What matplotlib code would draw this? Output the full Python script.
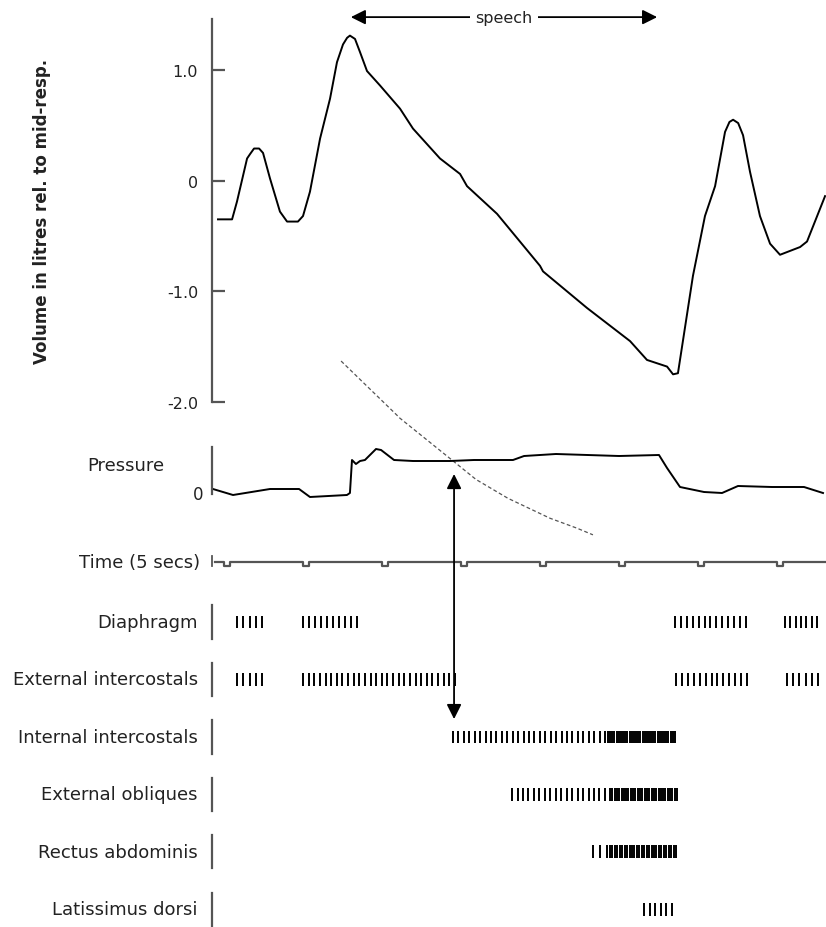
import matplotlib
matplotlib.use('Agg')
import matplotlib.pyplot as plt
from matplotlib.patches import ConnectionPatch
from matplotlib.transforms import blended_transform_factory
import numpy as np

plt.rcParams['font.family'] = ['DejaVu Sans']

# ── data (time in seconds) ───────────────────────────────────
vol_t = [-0.57, 0.32, 0.63, 1.27, 1.46, 1.71, 2.03, 2.28, 2.72, 3.35, 3.80, 4.49, 4.81,
         5.25, 5.89, 6.52, 6.96, 7.34, 7.60, 7.78, 8.10, 8.42, 8.86, 9.68, 10.95, 11.77,
         13.48, 14.75, 15.19, 17.09, 19.81, 20.00, 22.78, 25.51, 26.58, 27.85,
         28.23, 28.54, 29.49, 30.25, 30.89, 31.52, 31.80, 32.03, 32.35, 32.66, 33.10,
         33.73, 34.37, 35.00, 36.27, 36.71, 37.85]
vol_l = [-0.35, -0.35, -0.19, 0.20, 0.24, 0.29, 0.29, 0.25, 0.02, -0.28, -0.37, -0.37,
         -0.32, -0.10, 0.38, 0.74, 1.07, 1.23, 1.29, 1.31, 1.28, 1.16, 0.99, 0.86, 0.65,
         0.47, 0.20, 0.06, -0.05, -0.30, -0.77, -0.82, -1.15, -1.45, -1.62, -1.68,
         -1.75, -1.74, -0.86, -0.32, -0.05, 0.44, 0.53, 0.55, 0.52, 0.41, 0.08,
         -0.32, -0.57, -0.67, -0.60, -0.55, -0.14]

# relaxation pressure curve (dashed), plotted in volume units
relax_t = [7.22, 10.76, 10.89, 14.11, 15.76, 17.78, 20.44, 22.15, 23.16]
relax_l = [-1.63, -2.12, -2.14, -2.51, -2.70, -2.87, -3.05, -3.14, -3.20]

pres_t = [-0.89, 0.38, 2.72, 4.56, 5.25, 7.59, 7.78, 7.91, 8.16, 8.42, 8.73, 9.43,
          9.75, 10.57, 11.77, 14.11, 15.63, 18.10, 18.80, 20.82, 24.81, 27.34,
          27.85, 28.67, 30.19, 31.33, 32.34, 34.49, 36.52, 37.72]
pres_v = [0.3, -0.3, 0.3, 0.3, -0.5, -0.3, -0.1, 3.2, 2.8, 3.1, 3.2, 4.3,
          4.2, 3.2, 3.1, 3.1, 3.2, 3.2, 3.6, 3.8, 3.6, 3.7,
          2.4, 0.5, 0.0, -0.1, 0.6, 0.5, 0.5, -0.1]

time_marks = [0, 5, 10, 15, 20, 25, 30, 35]

muscles = ['Diaphragm', 'External intercostals', 'Internal intercostals',
           'External obliques', 'Rectus abdominis', 'Latissimus dorsi']
# bursts per muscle: (start s, end s, number of spikes)
bursts = [
    [(0.63, 2.22, 5), (4.81, 8.23, 10), (28.35, 32.85, 13), (35.32, 37.34, 7)],
    [(0.63, 2.22, 5), (4.81, 14.43, 28), (28.42, 32.91, 13), (35.44, 37.41, 6)],
    [(14.30, 23.92, 29), (24.11, 28.35, 32)],
    [(18.04, 23.92, 18), (24.24, 28.48, 30)],
    [(23.16, 24.05, 3), (24.24, 28.42, 28)],
    [(26.39, 28.16, 6)],
]

speech_start, speech_end = 7.66, 27.4
onset_t = 14.37

# ── layout ───────────────────────────────────────────────────
W, H = 826, 928
fig = plt.figure(figsize=(W / 100, H / 100), dpi=100)
T0, T1 = -0.95, 37.91
INK = '#222222'
SP = '#555555'


def px_axes(x0, y0, x1, y1):
    ax = fig.add_axes([x0 / W, 1 - y1 / H, (x1 - x0) / W, (y1 - y0) / H])
    ax.set_xlim(T0, T1)
    ax.patch.set_alpha(0)
    for s in ['top', 'right', 'bottom']:
        ax.spines[s].set_visible(False)
    ax.spines['left'].set_color(SP)
    ax.spines['left'].set_linewidth(1.6)
    ax.set_xticks([])
    return ax


# volume
axv = px_axes(212, 20, 826, 403)
axv.set_ylim(-2.0, 1.46)
axv.plot(vol_t, vol_l, color='black', lw=1.4)
axv.plot(relax_t, relax_l, color='#555555', lw=0.9, ls=(0, (3, 2)), clip_on=False)
axv.set_yticks([1.0, 0, -1.0, -2.0])
axv.set_yticklabels(['1.0', '0', '-1.0', '-2.0'])
axv.tick_params(axis='y', direction='in', length=9, width=1.6, color=SP,
                labelsize=11.5, labelcolor=INK, pad=10)
axv.set_ylabel('Volume in litres rel. to mid-resp.', fontsize=12,
               fontweight='bold', color=INK)
axv.yaxis.set_label_coords(-0.262, 0.5)

axv.annotate('', xy=(speech_start, 1.477), xytext=(speech_end, 1.477),
             arrowprops=dict(arrowstyle='<|-|>', color='black', lw=1.3,
                             mutation_scale=22),
             annotation_clip=False)
axv.text((speech_start + speech_end) / 2, 1.477, 'speech', ha='center', va='center',
         fontsize=11.5, color=INK,
         bbox=dict(facecolor='white', edgecolor='none', pad=4))

# pressure
axp = px_axes(212, 440, 826, 505)
axp.set_ylim(-1.2, 5.3)
axp.spines['left'].set_bounds(-0.2, 4.5)
axp.plot(pres_t, pres_v, color='black', lw=1.4)
axp.set_yticks([0])
axp.set_yticklabels(['0'])
axp.tick_params(axis='y', length=0, labelsize=12, labelcolor=INK, pad=6)
axp.text(-0.077, 0.6, 'Pressure', transform=axp.transAxes, ha='right',
         va='center', fontsize=13, color=INK)

# time trace
axt = px_axes(212, 550, 826, 576)
axt.set_ylim(-13, 13)
axt.spines['left'].set_bounds(-4, 6)
axt.spines['left'].set_linewidth(1.3)
tx, ty = [-0.76], [0]
for m in time_marks:
    tx += [m - 0.22, m - 0.22, m + 0.22, m + 0.22]
    ty += [0, -4, -4, 0]
tx.append(37.9)
ty.append(0)
axt.plot(tx, ty, color='#555555', lw=1.6)
axt.set_yticks([])
axt.text(-0.02, 0.5, 'Time (5 secs)', transform=axt.transAxes, ha='right',
         va='center', fontsize=13, color=INK)

# EMG
axe = px_axes(212, 594, 826, 928)
axe.set_ylim(5.31, -0.505)
axe.spines['left'].set_visible(False)
axe.set_yticks([])
bt = blended_transform_factory(axe.transAxes, axe.transData)
for i, (name, bl) in enumerate(zip(muscles, bursts)):
    axe.plot([0, 0], [i - 0.29, i + 0.29], color=SP, lw=1.6, transform=bt,
             clip_on=False)
    axe.text(-0.023, i, name, transform=bt, ha='right', va='center',
             fontsize=13, color=INK)
    for (a, b, n) in bl:
        xs = np.linspace(a, b, n)
        axe.vlines(xs, i - 0.11, i + 0.11, color='black', lw=1.4)

# onset arrow between pressure and EMG panels
con = ConnectionPatch(xyA=(onset_t, 1.8), coordsA=axp.transData,
                      xyB=(onset_t, 1.69), coordsB=axe.transData,
                      arrowstyle='<|-|>', color='black', lw=1.3,
                      mutation_scale=22)
fig.add_artist(con)

fig.savefig('out.png', dpi=100)
